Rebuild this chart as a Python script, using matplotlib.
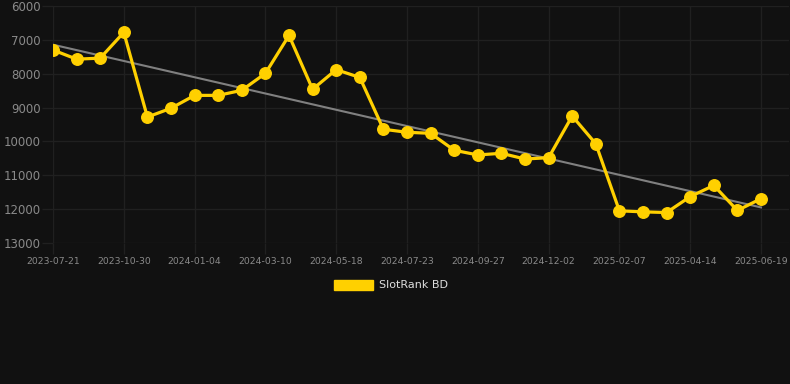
import numpy as np
import matplotlib
matplotlib.use("Agg")
import matplotlib.pyplot as plt
from matplotlib.patches import Rectangle

tick_labels = ["2023-07-21", "2023-10-30", "2024-01-04", "2024-03-10", "2024-05-18",
               "2024-07-23", "2024-09-27", "2024-12-02", "2025-02-07", "2025-04-14",
               "2025-06-19"]
tick_step = 3
series_name = "SlotRank BD"
values = [7300, 7570, 7540, 6780, 9280, 9020, 8640, 8640, 8490, 7990,
          6870, 8460, 7880, 8110, 9640, 9730, 9760, 10260, 10400, 10350,
          10520, 10480, 9250, 10070, 12050, 12080, 12100, 11630, 11300, 12040,
          11690]
y_ticks = [6000, 7000, 8000, 9000, 10000, 11000, 12000, 13000]

BG = "#111111"
GRID = "#202020"
TXT = "#8a8a8a"
GOLD = "#FFD000"
TREND = "#808080"

W, H = 790, 384
fig = plt.figure(figsize=(W / 100, H / 100), dpi=100, facecolor=BG)
left, right, top, bottom = 53, 789, 6, 243
ax = fig.add_axes([left / W, 1 - bottom / H, (right - left) / W, (bottom - top) / H])
ax.set_facecolor(BG)

x = np.arange(len(values))
coef = np.polyfit(x, values, 1)
ax.plot(x, np.polyval(coef, x), color=TREND, lw=1.5, zorder=2)
ax.plot(x, values, color=GOLD, lw=2.3, marker="o", ms=8.3, zorder=3)

spacing = (761 - 53) / 30
ax.set_xlim(0, (right - left) / spacing)
ax.set_ylim(13000, 6000)
ax.set_yticks(y_ticks)
ax.set_yticklabels([str(v) for v in y_ticks])
ax.set_xticks(x[::tick_step])
ax.set_xticklabels(tick_labels)

ax.grid(True, color=GRID, lw=1)
ax.set_axisbelow(True)
for s in ax.spines.values():
    s.set_visible(False)
ax.tick_params(axis="y", colors=GRID, length=8, width=1, labelcolor=TXT, labelsize=8.5, pad=1)
ax.tick_params(axis="x", colors=GRID, length=8, width=1, labelcolor=TXT, labelsize=6.7, pad=2)

h = Rectangle((0, 0), 1, 1, facecolor=GOLD, edgecolor=GOLD)
fig.legend([h], [series_name], loc="center", bbox_to_anchor=(0.495, 1 - 285 / H),
           frameon=False, handlelength=3.5, handleheight=1.0, handletextpad=0.55,
           fontsize=8, labelcolor="#dddddd")

fig.savefig("out.png", dpi=100, facecolor=BG)
